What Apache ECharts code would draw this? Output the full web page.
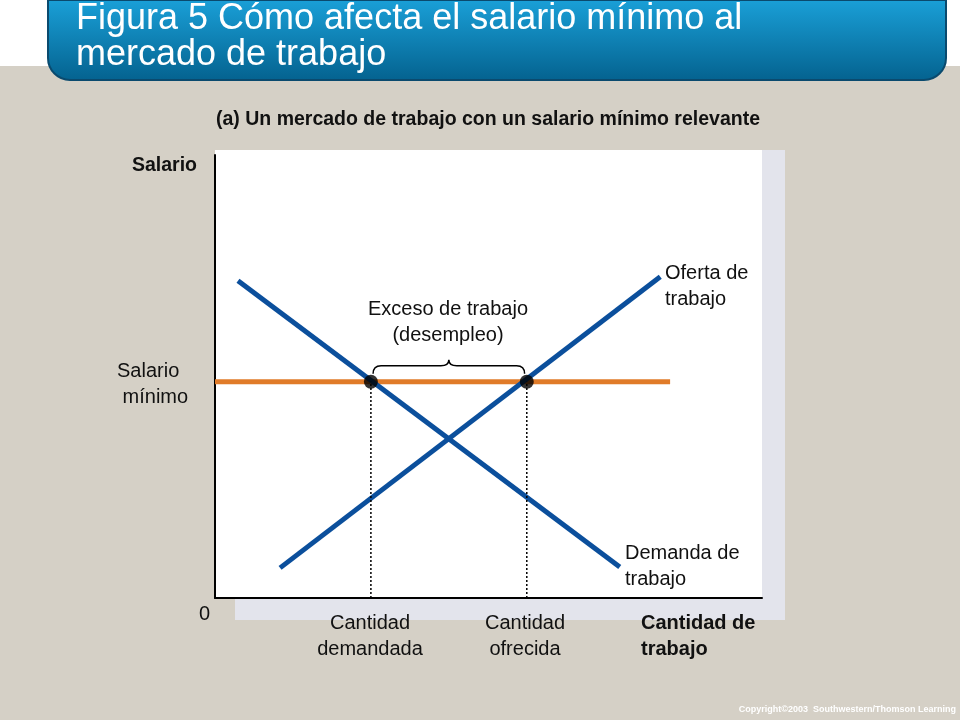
<!DOCTYPE html><html><head><meta charset="utf-8"><script src="https://cdn.jsdelivr.net/npm/echarts@6/dist/echarts.min.js"></script>
<style>body{margin:0;background:#d5d0c6}#c{width:960px;height:720px}</style></head><body><div id="c"></div><script>
const demand=[[4.2,71.6],[74.0,7.0]];
const supply=[[11.9,6.8],[81.4,72.5]];
const minWage=[[0,48.8],[83.2,48.8]];
const qDemanded=28.5, qSupplied=57.0, wageLevel=48.8;
const xLabels=['Cantidad\ndemandada','Cantidad\nofrecida'];
const ch=echarts.init(document.getElementById('c'));
const F='"Liberation Sans", Arial, sans-serif';
function T(x,y,t,font,extra){return {type:'text',x:x,y:y,style:Object.assign({text:t,font:font||('20px '+F),fill:'#111',lineHeight:26},extra||{})};}
ch.setOption({
 animation:false,backgroundColor:'#d5d0c6',
 graphic:[
  {type:'rect',shape:{x:0,y:0,width:960,height:66},style:{fill:'#fff'},z:-10},
  {type:'rect',shape:{x:48,y:0,width:898,height:80,r:[0,0,22,22]},style:{fill:{type:'linear',x:0,y:0,x2:0,y2:1,colorStops:[{offset:0,color:'#1aa0d8'},{offset:1,color:'#04628f'}]},stroke:'#0a4a6e',lineWidth:2},z:-5},
  T(76,1,'Figura 5 Cómo afecta el salario mínimo al\nmercado de trabajo','36px '+F,{fill:'#fff',lineHeight:36}),
  {type:'rect',shape:{x:235,y:150,width:550,height:470},style:{fill:'#e3e4ec'},z:-3},
  {type:'rect',shape:{x:215,y:150,width:547,height:448},style:{fill:'#fff'},z:-2},
  T(216,107,'(a) Un mercado de trabajo con un salario mínimo relevante','bold 19.5px '+F),
  T(132,153,'Salario','bold 19.5px '+F),
  T(117,358,'Salario\n mínimo'),
  T(199,601,'0'),
  T(370,610,xLabels[0],null,{align:'center'}),
  T(525,610,xLabels[1],null,{align:'center'}),
  T(641,610,'Cantidad de\ntrabajo','bold 20px '+F),
  T(665,260,'Oferta de\ntrabajo'),
  T(625,540,'Demanda de\ntrabajo'),
  T(448,296,'Exceso de trabajo\n(desempleo)',null,{align:'center'}),
  {type:'text',right:4,top:705,style:{text:'Copyright©2003  Southwestern/Thomson Learning',font:'bold 9px '+F,fill:'#fff'}}
 ],
 grid:{left:215,top:155,width:547,height:443},
 xAxis:{type:'value',min:0,max:100,axisLine:{show:true,lineStyle:{color:'#000',width:2}},axisTick:{show:false},axisLabel:{show:false},splitLine:{show:false}},
 yAxis:{type:'value',min:0,max:100,axisLine:{show:true,lineStyle:{color:'#000',width:2}},axisTick:{show:false},axisLabel:{show:false},splitLine:{show:false}},
 series:[
  {type:'line',data:minWage,symbol:'none',lineStyle:{color:'#e07b29',width:5},z:2},
  {type:'line',data:demand,symbol:'none',lineStyle:{color:'#0b4f9c',width:5},z:3},
  {type:'line',data:supply,symbol:'none',lineStyle:{color:'#0b4f9c',width:5},z:3},
  {type:'line',data:[[qDemanded,0],[qDemanded,wageLevel]],symbol:'none',lineStyle:{color:'#000',width:1.5,type:[2,2]}},
  {type:'line',data:[[qSupplied,0],[qSupplied,wageLevel]],symbol:'none',lineStyle:{color:'#000',width:1.5,type:[2,2]}},
  {type:'scatter',data:[[qDemanded,wageLevel],[qSupplied,wageLevel]],symbolSize:14,itemStyle:{color:'#000'},z:5},
  {type:'custom',data:[[qDemanded,qSupplied]],z:5,renderItem:function(p,api){
    const a=api.coord([api.value(0)+0.4,wageLevel]),b=api.coord([api.value(1)-0.4,wageLevel]);
    const y=a[1]-16,m=(a[0]+b[0])/2;
    const d=`M${a[0]},${y+8} Q${a[0]},${y} ${a[0]+8},${y} L${m-8},${y} Q${m},${y} ${m},${y-6} Q${m},${y} ${m+8},${y} L${b[0]-8},${y} Q${b[0]},${y} ${b[0]},${y+8}`;
    return {type:'path',shape:{pathData:d},style:{stroke:'#000',fill:'none',lineWidth:1.5}};
  }}
 ]
});
</script></body></html>
